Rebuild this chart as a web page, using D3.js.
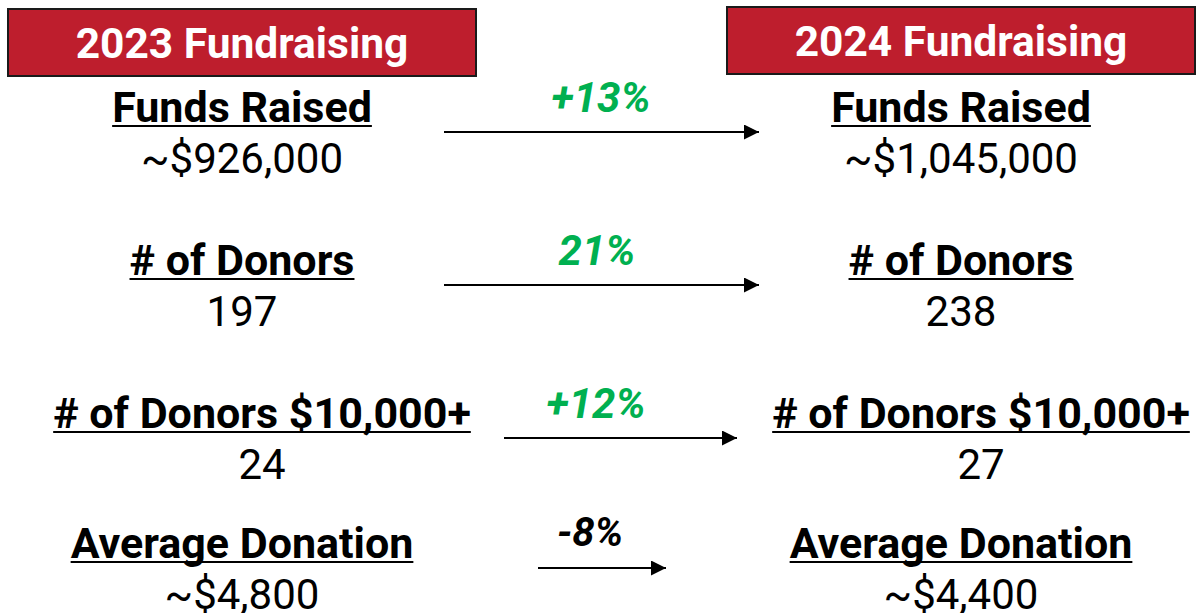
<!DOCTYPE html>
<html>
<head>
<meta charset="utf-8">
<script src="https://cdn.jsdelivr.net/npm/d3@7"></script>
<style>
  body { margin: 0; background: #fff; }
  svg { display: block; font-family: Roboto, "Noto Sans", sans-serif; }
</style>
</head>
<body>
<figure id="cmp" style="margin:0"></figure>
<script>
const years = ["2023 Fundraising", "2024 Fundraising"]
const metrics = ["Funds Raised", "# of Donors", "# of Donors $10,000+", "Average Donation"]
const values2023 = ["~$926,000", "197", "24", "~$4,800"]
const values2024 = ["~$1,045,000", "238", "27", "~$4,400"]
const changes = ["+13%", "21%", "+12%", "-8%"]
const changeUp = [true, true, true, false]

const width = 1196
const height = 613

const svg = d3.select("figure#cmp")
  .append("svg")
  .attr("width", width)
  .attr("height", height)

// column centres (left / right) and row baselines
const col = d3.scaleOrdinal().domain(years).range([242, 961])
const rowY = d3.scaleOrdinal().domain(metrics).range([122, 275, 428, 558])
// the $10,000+ row sits a bit to the right
const colShift = d3.scaleOrdinal().domain(metrics).range([0, 0, 20, 0])
// arrow spans per row
const arrowX = d3.scaleOrdinal().domain(metrics).range([[444, 759], [444, 759], [504, 737], [538, 666]])
const labelX = d3.scaleOrdinal().domain(metrics).range([601, 597, 596, 590])

svg.append("defs").append("marker")
  .attr("id", "head")
  .attr("viewBox", "0 0 10 10")
  .attr("refX", 10).attr("refY", 5)
  .attr("markerWidth", 16).attr("markerHeight", 15)
  .attr("markerUnits", "userSpaceOnUse")
  .attr("orient", "auto")
  .append("path")
  .attr("d", "M0,0 L10,5 L0,10 Z")
  .attr("fill", "#000")

// header boxes
const head = svg.selectAll("g.head")
  .data(years)
  .enter()
  .append("g")
  .attr("class", "head")

head.append("rect")
  .attr("x", d => col(d) - 234)
  .attr("y", (d, i) => i === 0 ? 9 : 7)
  .attr("width", 468)
  .attr("height", 67)
  .attr("fill", "#be1e2d")
  .attr("stroke", "#1a1a1a")
  .attr("stroke-width", 2)

head.append("text")
  .attr("x", d => col(d))
  .attr("y", (d, i) => i === 0 ? 58 : 56)
  .attr("text-anchor", "middle")
  .attr("fill", "#fff")
  .attr("font-weight", 700)
  .attr("font-size", 42.5)
  .text(d => d)

// metric blocks for both years
const blocks = []
metrics.forEach((m, i) => {
  blocks.push({ year: years[0], metric: m, value: values2023[i] })
  blocks.push({ year: years[1], metric: m, value: values2024[i] })
})

const block = svg.selectAll("g.block")
  .data(blocks)
  .enter()
  .append("g")
  .attr("class", "block")
  .attr("transform", d => "translate(" + (col(d.year) + colShift(d.metric)) + "," + rowY(d.metric) + ")")

block.append("text")
  .attr("class", "title")
  .attr("text-anchor", "middle")
  .attr("font-weight", 700)
  .attr("font-size", 43)
  .attr("fill", "#000")
  .text(d => d.metric)

block.each(function () {
  const g = d3.select(this)
  const w = g.select("text.title").node().getComputedTextLength()
  g.append("line")
    .attr("x1", -w / 2).attr("x2", w / 2)
    .attr("y1", 4).attr("y2", 4)
    .attr("stroke", "#000")
    .attr("stroke-width", 2)
})

block.append("text")
  .attr("y", 51)
  .attr("text-anchor", "middle")
  .attr("font-size", 42)
  .attr("fill", "#000")
  .text(d => d.value)

// change arrows
const chg = svg.selectAll("g.chg")
  .data(metrics)
  .enter()
  .append("g")
  .attr("class", "chg")

chg.append("line")
  .attr("x1", d => arrowX(d)[0])
  .attr("x2", d => arrowX(d)[1])
  .attr("y1", d => rowY(d) + 10)
  .attr("y2", d => rowY(d) + 10)
  .attr("stroke", "#000")
  .attr("stroke-width", 2)
  .attr("marker-end", "url(#head)")

chg.append("text")
  .attr("x", d => labelX(d))
  .attr("y", (d, i) => rowY(d) - (i === 3 ? 12 : 10))
  .attr("text-anchor", "middle")
  .attr("font-weight", 700)
  .attr("font-style", "italic")
  .attr("font-size", (d, i) => changeUp[i] ? 42 : 40)
  .attr("fill", (d, i) => changeUp[i] ? "#00b050" : "#000")
  .text((d, i) => changes[i])
</script>
</body>
</html>
